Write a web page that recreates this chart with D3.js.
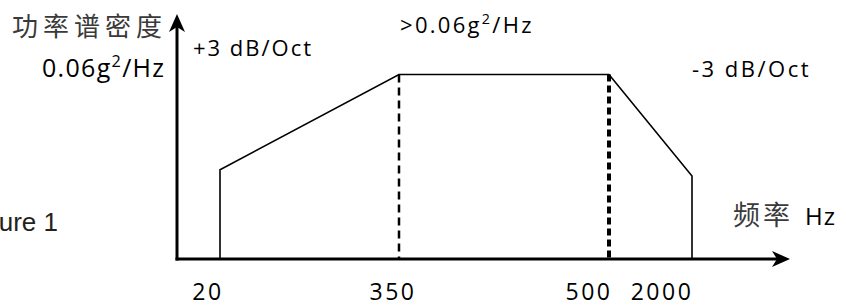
<!DOCTYPE html>
<html lang="zh">
  <head>
    <meta charset="utf-8">
    <title>功率谱密度</title>
    <style>
      body { margin: 0; background: #fff; }
      .lbl { font-family: "Open Sans", sans-serif; fill: #000; }
      .cjk { font-family: "Noto Sans CJK SC", sans-serif; fill: #3a3a3a; font-weight: 400; }
      .line { fill: none; stroke: #000; }
    </style>
  </head>
  <body>
    <svg id="wrapper" width="846" height="307"></svg>
    <script src="https://cdnjs.cloudflare.com/ajax/libs/d3/7.8.5/d3.min.js"></script>
    <script>
    // break frequencies (Hz) and PSD level (g^2/Hz), schematic
    const freqs = [20, 350, 500, 2000];
    const psd = [0.029, 0.06, 0.06, 0.027];
    const tickLabels = ['20', '350', '500', '2000'];
    const dashedAt = [350, 500];

    const svg = d3.select('#wrapper');

    // schematic axis: piecewise linear, not to scale
    const x = d3.scaleLinear().domain(freqs).range([220, 399, 609, 692]);
    const y = d3.scaleLinear().domain([0, 0.06]).range([259, 74.5]);

    const x0 = 177, y0 = y(0);

    // profile
    let pts = [[freqs[0], 0]];
    freqs.forEach(function(f, i) { pts.push([f, psd[i]]); });
    pts.push([freqs[freqs.length - 1], 0]);
    const line = d3.line()
      .x(function(d) { return x(d[0]); })
      .y(function(d) { return y(d[1]); });
    svg.append('path')
      .datum(pts)
      .attr('class', 'line')
      .attr('stroke-width', 1.6)
      .attr('d', line);

    // dashed guides
    const dashStyle = {350: ['8,5', 2.5], 500: ['7,4', 4]};
    dashedAt.forEach(function(f) {
      svg.append('line')
        .attr('x1', x(f)).attr('x2', x(f))
        .attr('y1', y(psd[freqs.indexOf(f)])).attr('y2', y0)
        .attr('stroke', '#000')
        .attr('stroke-width', dashStyle[f][1])
        .attr('stroke-dasharray', dashStyle[f][0]);
    });

    // axes
    svg.append('line')
      .attr('x1', x0).attr('x2', x0).attr('y1', y0 + 1.5).attr('y2', 24)
      .attr('stroke', '#000').attr('stroke-width', 3);
    svg.append('line')
      .attr('x1', x0 - 1.5).attr('x2', 782).attr('y1', y0).attr('y2', y0)
      .attr('stroke', '#000').attr('stroke-width', 3);
    // arrowheads
    svg.append('path')
      .attr('d', 'M' + x0 + ',14 L' + (x0 + 8) + ',32 L' + x0 + ',27 L' + (x0 - 8) + ',32 Z')
      .attr('fill', '#000');
    svg.append('path')
      .attr('d', 'M790,' + y0 + ' L772,' + (y0 - 8) + ' L777,' + y0 + ' L772,' + (y0 + 8) + ' Z')
      .attr('fill', '#000');

    // tick labels
    const tickDx = {20: -12, 350: -6, 500: -20, 2000: -30};
    svg.selectAll('text.tick')
      .data(freqs)
      .enter().append('text')
      .attr('class', 'lbl tick')
      .attr('x', function(d) { return x(d) + tickDx[d]; })
      .attr('y', 300)
      .attr('text-anchor', 'middle')
      .attr('font-size', 23)
      .attr('letter-spacing', 2.5)
      .text(function(d, i) { return tickLabels[i]; });

    // y axis title
    svg.append('text')
      .attr('class', 'cjk')
      .attr('x', 12).attr('y', 36)
      .attr('font-size', 26)
      .attr('letter-spacing', 5)
      .text('功率谱密度');

    function psdText(tx, ty, size, ls, prefix) {
      const t = svg.append('text')
        .attr('class', 'lbl')
        .attr('x', tx).attr('y', ty)
        .attr('font-size', size)
        .attr('letter-spacing', ls);
      t.append('tspan').text(prefix + '0.06g');
      t.append('tspan').attr('dy', -size * 0.42).attr('font-size', size * 0.65).text('2');
      t.append('tspan').attr('dy', size * 0.42).text('/Hz');
    }
    psdText(42, 77, 25, 1.3, '');
    psdText(400, 33, 22, 2.3, '>');

    svg.append('text')
      .attr('class', 'lbl')
      .attr('x', 193).attr('y', 56)
      .attr('font-size', 22)
      .attr('letter-spacing', 2)
      .text('+3 dB/Oct');
    svg.append('text')
      .attr('class', 'lbl')
      .attr('x', 692).attr('y', 77)
      .attr('font-size', 22)
      .attr('letter-spacing', 2.5)
      .text('-3 dB/Oct');

    // x axis title
    const xt = svg.append('text')
      .attr('x', 733).attr('y', 225);
    xt.append('tspan').attr('class', 'cjk').attr('font-size', 27).attr('letter-spacing', 3).text('频率');
    xt.append('tspan').attr('class', 'lbl').attr('font-size', 24).attr('dx', 12).attr('letter-spacing', 1).text('Hz');

    // caption cut off at the left edge
    svg.append('text')
      .attr('x', 58).attr('y', 231)
      .attr('text-anchor', 'end')
      .attr('font-family', '"Liberation Sans", Arial, sans-serif')
      .attr('font-size', 26)
      .attr('fill', '#231f20')
      .text('Figure 1');
    </script>
  </body>
</html>
